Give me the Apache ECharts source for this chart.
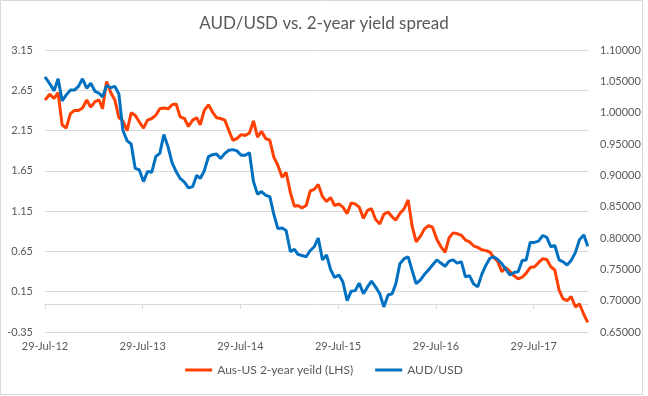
<!DOCTYPE html>
<html>
<head>
<meta charset="utf-8">
<script src="https://cdn.jsdelivr.net/npm/echarts@6/dist/echarts.min.js"></script>
<style>
html,body{margin:0;padding:0;background:#fff;}
#chart{width:648px;height:396px;}
</style>
</head>
<body>
<div id="chart"></div>
<script>
// ---- data ----
var dates = [
  '2012-07-29','2012-08-16','2012-09-01','2012-09-16','2012-10-01','2012-10-16','2012-11-01','2012-11-16','2012-12-01','2012-12-16',
  '2013-01-01','2013-01-16','2013-02-01','2013-02-16','2013-03-01','2013-03-16','2013-04-01','2013-04-16','2013-05-01','2013-05-16','2013-06-01','2013-06-16','2013-07-01','2013-07-16',
  '2013-08-01','2013-08-16','2013-09-01','2013-09-16','2013-10-01','2013-10-16','2013-11-01','2013-11-16','2013-12-01','2013-12-16',
  '2014-01-01','2014-01-16','2014-02-01','2014-02-16','2014-03-01','2014-03-16','2014-04-01','2014-04-16','2014-05-01','2014-05-16','2014-06-01','2014-06-16','2014-07-01','2014-07-16',
  '2014-08-01','2014-08-16','2014-09-01','2014-09-16','2014-10-01','2014-10-16','2014-11-01','2014-11-16','2014-12-01','2014-12-16',
  '2015-01-01','2015-01-16','2015-02-01','2015-02-16','2015-03-01','2015-03-16','2015-04-01','2015-04-16','2015-05-01','2015-05-16','2015-06-01','2015-06-16','2015-07-01','2015-07-16',
  '2015-08-01','2015-08-16','2015-09-01','2015-09-16','2015-10-01','2015-10-16','2015-11-01','2015-11-16','2015-12-01','2015-12-16',
  '2016-01-01','2016-01-16','2016-02-01','2016-02-16','2016-03-01','2016-03-16','2016-04-01','2016-04-16','2016-05-01','2016-05-16','2016-06-01','2016-06-16','2016-07-01','2016-07-16',
  '2016-08-01','2016-08-16','2016-09-01','2016-09-16','2016-10-01','2016-10-16','2016-11-01','2016-11-16','2016-12-01','2016-12-16',
  '2017-01-01','2017-01-16','2017-02-01','2017-02-16','2017-03-01','2017-03-16','2017-04-01','2017-04-16','2017-05-01','2017-05-16','2017-06-01','2017-06-16','2017-07-01','2017-07-16',
  '2017-08-01','2017-08-16','2017-09-01','2017-09-16','2017-10-01','2017-10-16','2017-11-01','2017-11-16','2017-12-01','2017-12-16',
  '2018-01-01','2018-01-16','2018-02-01','2018-02-16'
];
var spread = [
  2.53,2.60,2.55,2.62,2.22,2.18,2.36,2.40,2.40,2.43,2.53,2.44,2.51,2.53,2.42,2.76,2.62,2.53,2.31,2.27,2.15,2.37,2.34,2.26,
  2.18,2.28,2.30,2.34,2.42,2.43,2.42,2.47,2.48,2.32,2.30,2.20,2.28,2.31,2.22,2.40,2.47,2.38,2.31,2.30,2.28,2.15,2.03,2.05,
  2.10,2.09,2.12,2.27,2.07,2.14,2.05,2.03,1.82,1.72,1.57,1.63,1.38,1.21,1.22,1.19,1.22,1.40,1.42,1.48,1.33,1.27,1.32,1.22,
  1.24,1.20,1.12,1.25,1.24,1.20,1.06,1.16,1.18,1.05,0.99,1.11,1.14,1.08,1.04,1.12,1.18,1.29,0.96,0.77,0.84,0.93,0.97,0.95,
  0.80,0.71,0.64,0.82,0.88,0.87,0.85,0.79,0.77,0.72,0.70,0.67,0.66,0.64,0.58,0.53,0.40,0.45,0.40,0.35,0.31,0.33,0.38,0.45,
  0.46,0.51,0.56,0.55,0.46,0.42,0.17,0.06,0.04,0.09,-0.04,0.00,-0.13,-0.23
];
var audusd = [
  1.057,1.046,1.035,1.054,1.019,1.028,1.036,1.036,1.042,1.054,1.039,1.047,1.034,1.031,1.025,1.043,1.040,1.042,1.030,0.972,0.955,0.950,0.911,0.909,
  0.890,0.906,0.905,0.930,0.935,0.965,0.945,0.920,0.906,0.895,0.889,0.880,0.882,0.900,0.895,0.907,0.930,0.933,0.934,0.927,0.935,0.940,0.941,0.939,
  0.932,0.932,0.936,0.890,0.870,0.874,0.868,0.866,0.838,0.815,0.816,0.812,0.778,0.782,0.774,0.772,0.770,0.780,0.786,0.800,0.765,0.773,0.750,0.737,
  0.741,0.730,0.700,0.715,0.716,0.728,0.711,0.722,0.731,0.722,0.711,0.690,0.709,0.711,0.727,0.759,0.767,0.770,0.748,0.727,0.733,0.742,0.749,0.757,
  0.765,0.760,0.755,0.763,0.765,0.760,0.762,0.738,0.740,0.727,0.722,0.742,0.757,0.768,0.770,0.766,0.759,0.750,0.741,0.745,0.746,0.764,0.765,0.793,
  0.793,0.795,0.804,0.801,0.786,0.788,0.765,0.762,0.757,0.764,0.777,0.797,0.805,0.787
];
var tickDates = ['2012-07-29','2013-07-29','2014-07-29','2015-07-29','2016-07-29','2017-07-29'];
var tickLabels = ['29-Jul-12','29-Jul-13','29-Jul-14','29-Jul-15','29-Jul-16','29-Jul-17'];
var seriesNames = ['Aus-US 2-year yeild (LHS)', 'AUD/USD'];
var titleText = 'AUD/USD vs. 2-year yield spread';
var xMinDate = '2012-07-29', xMaxDate = '2018-02-17';

// ---- helpers ----
function toTs(s){ var p = s.split('-'); return Date.UTC(+p[0], +p[1]-1, +p[2]); }
var tickTs = tickDates.map(toTs);
function pair(vals){ return dates.map(function(d,i){ return [toTs(d), vals[i]]; }); }

var FONT = 'Lato';
var TXT = '#595959';
var GRIDC = '#D9D9D9';
var chart = echarts.init(document.getElementById('chart'), null, {renderer:'canvas'});
chart.setOption({
  animation: false,
  backgroundColor: '#fff',
  textStyle: {fontFamily: FONT},
  title: {
    text: titleText, left: 'center', top: 10,
    textStyle: {fontFamily: FONT, fontSize: 17, fontWeight: 'normal', color: TXT}
  },
  legend: {
    bottom: 15, left: 'center',
    itemWidth: 27, itemHeight: 3, itemGap: 22, icon: 'rect',
    textStyle: {fontFamily: FONT, fontSize: 12, color: TXT},
    data: seriesNames
  },
  grid: {left: 45, right: 60, top: 50, bottom: 64, containLabel: false},
  xAxis: [
    {
      type: 'value', position: 'bottom',
      min: toTs(xMinDate), max: toTs(xMaxDate),
      axisLine: {show: false, onZero: false},
      axisTick: {show: false},
      splitLine: {show: false},
      axisLabel: {
        customValues: tickTs, margin: 9, hideOverlap: false,
        color: TXT, fontFamily: FONT, fontSize: 11,
        formatter: function(v){ var i = tickTs.indexOf(v); return i >= 0 ? tickLabels[i] : ''; }
      }
    },
    {
      type: 'value', position: 'bottom',
      min: toTs(xMinDate), max: toTs(xMaxDate),
      axisLine: {show: true, onZero: true, onZeroAxisIndex: 0, lineStyle: {color: GRIDC, width: 1}},
      axisTick: {show: true, customValues: tickTs, length: 5, inside: false, lineStyle: {color: GRIDC}},
      axisLabel: {show: false},
      splitLine: {show: false}
    }
  ],
  yAxis: [
    {
      type: 'value', position: 'left',
      min: -0.35, max: 3.15, interval: 0.5,
      axisLine: {show: false}, axisTick: {show: false},
      splitLine: {show: true, lineStyle: {color: GRIDC, width: 1}},
      axisLabel: {margin: 12, color: TXT, fontFamily: FONT, fontSize: 11,
        formatter: function(v){ return v.toFixed(2); }}
    },
    {
      type: 'value', position: 'right',
      min: 0.65, max: 1.10, interval: 0.05,
      axisLine: {show: false}, axisTick: {show: false},
      splitLine: {show: false},
      axisLabel: {margin: 12, color: TXT, fontFamily: FONT, fontSize: 11,
        formatter: function(v){ return v.toFixed(5); }}
    }
  ],
  graphic: [{
    type: 'rect', silent: true, z: -1,
    shape: {x: 0.5, y: 0.5, width: 642, height: 394},
    style: {fill: null, stroke: GRIDC, lineWidth: 1}
  }],
  series: [
    {
      name: seriesNames[0], type: 'line', xAxisIndex: 0, yAxisIndex: 0,
      data: pair(spread), showSymbol: false, symbol: 'none',
      lineStyle: {color: '#FF4000', width: 3}, itemStyle: {color: '#FF4000'},
      z: 2
    },
    {
      name: seriesNames[1], type: 'line', xAxisIndex: 0, yAxisIndex: 1,
      data: pair(audusd), showSymbol: false, symbol: 'none',
      lineStyle: {color: '#0070C0', width: 3}, itemStyle: {color: '#0070C0'},
      z: 3
    }
  ]
});
</script>
</body>
</html>
